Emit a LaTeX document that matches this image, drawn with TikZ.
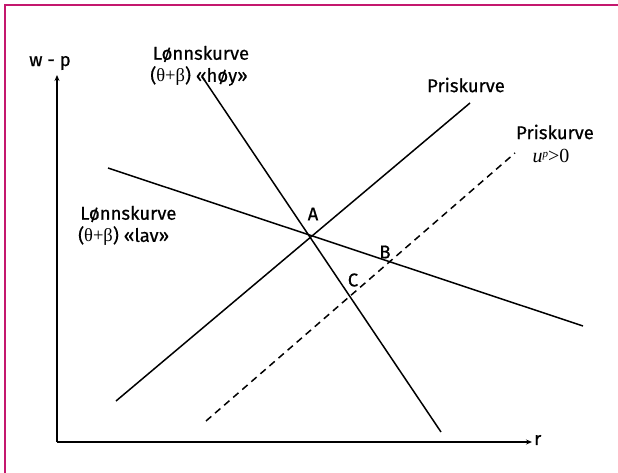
\documentclass[tikz,border=0pt]{standalone}
\usepackage{fontspec}
\setmainfont{Fira Sans}
\newfontfamily\lblfont{Fira Sans}[FakeBold=0.6]
\newfontfamily\tms{Liberation Serif}
\newcommand{\thb}{{\tms θ+β}}
\usetikzlibrary{arrows.meta}
\definecolor{frame}{RGB}{196,24,110}
\tikzset{
  lbl/.style={font=\fontsize{18.5}{20}\lblfont, inner sep=0pt},
  curve/.style={line width=1.5pt, black},
  axis/.style={line width=1.3pt, -{Stealth[length=6pt,width=5pt]}},
}
\begin{document}
\begin{tikzpicture}[x=1pt,y=-1pt]
\useasboundingbox (0,0) rectangle (618,473);
% frame
\draw[frame, line width=2pt] (5,473) -- (5,5) -- (618,5);
% axes
\coordinate (O) at (57,442);
\coordinate (ytip) at (57,75);
\coordinate (xtip) at (532,442);
\draw[axis] (O) -- (ytip);
\draw[axis] (O) -- (xtip);
\node[lbl] (wp) at (50,63) {w - p};
\node[lbl, anchor=west] (r) at (534,440) {r};
% curves
\coordinate (h1) at (203,78);
\coordinate (h2) at (441,432);
\coordinate (l1) at (108,168);
\coordinate (l2) at (583,326);
\coordinate (p1) at (116,401);
\coordinate (p2) at (470,103);
\coordinate (d1) at (206,421);
\coordinate (d2) at (515,153);
\draw[curve] (h1) -- (h2);
\draw[curve] (l1) -- (l2);
\draw[curve] (p1) -- (p2);
\draw[curve, dash pattern=on 7pt off 5pt] (d1) -- (d2);
% labels
\node[lbl] (lh1) at (201,54) {Lønnskurve};
\node[lbl] (lh2) at (199,76) {(\thb) «høy»};
\node[lbl] (pk1) at (466,85) {Priskurve};
\node[lbl] (pk2) at (555,132) {Priskurve};
\node[inner sep=0pt, font=\fontsize{20}{22}\selectfont\tms] (up) at (551,156) {\textit{u}\raisebox{0.55ex}{\fontsize{11}{12}\selectfont\textit{p}}>0};
\node[lbl, anchor=west] (ll1) at (80,214) {Lønnskurve};
\node[lbl, anchor=west] (ll2) at (78,236) {(\thb) «lav»};
\node[lbl] (A) at (313,214) {A};
\node[lbl] (B) at (385,252) {B};
\node[lbl] (C) at (353,280) {C};
\end{tikzpicture}
\end{document}
